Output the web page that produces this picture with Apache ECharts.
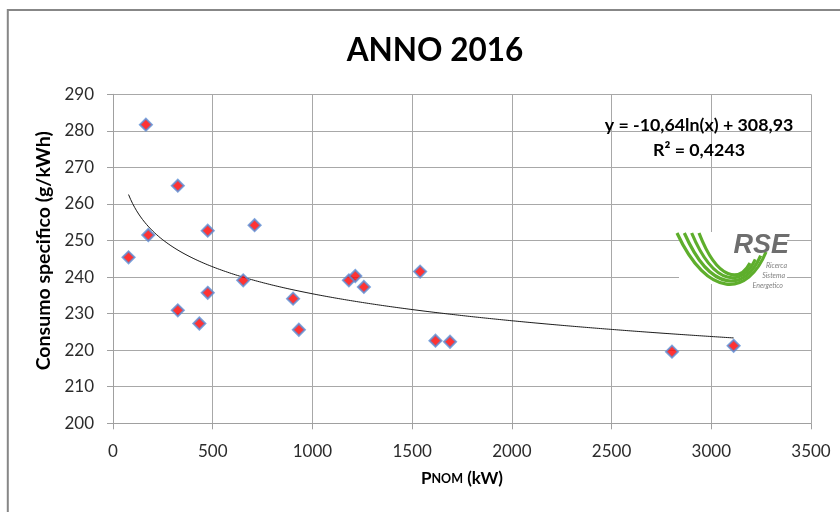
<!DOCTYPE html>
<html>
<head>
<meta charset="utf-8">
<script src="https://cdn.jsdelivr.net/npm/echarts@6/dist/echarts.min.js"></script>
<style>html,body{margin:0;padding:0;background:#fff}#c{width:840px;height:512px}</style>
</head>
<body>
<div id="c"></div>
<script>
// Data
const pNom = [78, 165, 177, 325, 325, 433, 475, 475, 653, 710, 903, 932, 1183, 1215, 1258, 1540, 1617, 1690, 2803, 3112];
const consumo = [245.4, 281.7, 251.5, 265.0, 230.9, 227.3, 252.7, 235.7, 239.1, 254.2, 234.1, 225.6, 239.1, 240.3, 237.3, 241.5, 222.6, 222.3, 219.6, 221.2];
// Logarithmic trend line coefficients shown on the chart
const TREND_A = -10.64;
const TREND_B = 308.93;
const xTicks = { min: 0, max: 3500, interval: 500 };
const yTicks = { min: 200, max: 290, interval: 10 };
const titleText = 'ANNO 2016';
const eqText = 'y = -10,64ln(x) + 308,93';
const r2Text = 'R² = 0,4243';

const scatterData = pNom.map((x, i) => [x, consumo[i]]);
const xMin = Math.min(...pNom), xMax = Math.max(...pNom);
const trendData = [];
for (let i = 0; i <= 300; i++) {
  const x = xMin + (xMax - xMin) * i / 300;
  trendData.push([x, TREND_A * Math.log(x) + TREND_B]);
}

const FONT = 'Lato, "Open Sans", sans-serif';
const chart = echarts.init(document.getElementById('c'), null, { renderer: 'canvas' });

// logo swoosh curves (outer -> inner)
const outer = { x1: 677, y1: 233, cpx1: 708, cpy1: 300, cpx2: 748, cpy2: 296, x2: 766, y2: 252 };
const inner = { x1: 699, y1: 233, cpx1: 718, cpy1: 282, cpx2: 740, cpy2: 282, x2: 750, y2: 263 };
const swoosh = [];
for (let i = 0; i < 4; i++) {
  const t = i / 3, shape = {};
  for (const k in outer) shape[k] = outer[k] + (inner[k] - outer[k]) * t;
  swoosh.push({ type: 'bezierCurve', shape, style: { stroke: '#5eae2c', lineWidth: 3.2, fill: null }, z: 101 });
}

chart.setOption({
  backgroundColor: '#ffffff',
  animation: false,
  title: {
    text: titleText,
    left: 430, top: 30, textAlign: 'center',
    textStyle: { fontFamily: FONT, fontSize: 31.5, fontWeight: 'bold', color: '#000' }
  },
  grid: { left: 113, right: 29, top: 94.3, bottom: 88.7 },
  xAxis: {
    type: 'value', min: xTicks.min, max: xTicks.max, interval: xTicks.interval,
    name: '{p|P}{s|NOM}{p| (kW)}',
    nameLocation: 'middle', nameGap: 47,
    nameTextStyle: {
      rich: {
        p: { fontFamily: FONT, fontSize: 17, fontWeight: 'bold', color: '#000' },
        s: { fontFamily: FONT, fontSize: 12.5, fontWeight: 'bold', color: '#000' }
      }
    },
    axisLine: { lineStyle: { color: '#a0a0a0', width: 1 } },
    axisTick: { show: true, length: 6, lineStyle: { color: '#a0a0a0' } },
    axisLabel: { fontFamily: FONT, fontSize: 17, color: '#2b2b2b', margin: 20, formatter: v => String(v) },
    splitLine: { show: true, lineStyle: { color: '#a8a8a8', width: 1 } }
  },
  yAxis: {
    type: 'value', min: yTicks.min, max: yTicks.max, interval: yTicks.interval,
    name: 'Consumo specifico (g/kWh)',
    nameLocation: 'middle', nameGap: 56,
    nameTextStyle: { fontFamily: FONT, fontSize: 19.5, fontWeight: 'bold', color: '#000', padding: [0, 0, 0, 16] },
    axisLine: { show: true, lineStyle: { color: '#a0a0a0', width: 1 } },
    axisTick: { show: true, length: 6, lineStyle: { color: '#a0a0a0' } },
    axisLabel: { fontFamily: FONT, fontSize: 17, color: '#2b2b2b', margin: 19, formatter: v => String(v) },
    splitLine: { show: true, lineStyle: { color: '#a8a8a8', width: 1 } }
  },
  series: [
    {
      type: 'line', data: trendData, showSymbol: false, symbol: 'none',
      lineStyle: { color: '#1a1a1a', width: 1 }, z: 3, silent: true
    },
    {
      type: 'scatter', data: scatterData, symbol: 'diamond', symbolSize: 12,
      itemStyle: { color: '#ff0000', borderColor: '#5b8fd6', borderWidth: 2 }, z: 4
    }
  ],
  graphic: [
    { type: 'polyline', shape: { points: [[7.8, 520], [7.8, 10], [850, 10]] },
      style: { stroke: '#878787', lineWidth: 2, fill: null }, z: 100 },
    { type: 'text', x: 699, y: 125, z: 100,
      style: { text: eqText, fontFamily: FONT, fontSize: 17.8, fontWeight: 'bold', fill: '#000',
        textAlign: 'center', textVerticalAlign: 'middle' } },
    { type: 'text', x: 699, y: 150, z: 100,
      style: { text: r2Text, fontFamily: FONT, fontSize: 17.8, fontWeight: 'bold', fill: '#000',
        textAlign: 'center', textVerticalAlign: 'middle' } },
    { type: 'rect', shape: { x: 679, y: 232, width: 108, height: 52 }, style: { fill: '#ffffff' }, z: 100 },
    ...swoosh,
    { type: 'text', x: 789, y: 246, z: 101,
      style: { text: 'RSE', fontFamily: '"Liberation Sans", Arial, sans-serif', fontSize: 27, fontWeight: 'bold', fontStyle: 'italic', fill: '#6e6e6e',
        textAlign: 'right', textVerticalAlign: 'middle' } },
    { type: 'text', x: 787, y: 266, z: 101,
      style: { text: 'Ricerca', fontFamily: FONT, fontSize: 7, fontStyle: 'italic', fill: '#808080', textAlign: 'right', textVerticalAlign: 'middle' } },
    { type: 'text', x: 785, y: 276, z: 101,
      style: { text: 'Sistema', fontFamily: FONT, fontSize: 7, fontStyle: 'italic', fill: '#808080', textAlign: 'right', textVerticalAlign: 'middle' } },
    { type: 'text', x: 783, y: 286, z: 101,
      style: { text: 'Energetico', fontFamily: FONT, fontSize: 7, fontStyle: 'italic', fill: '#808080', textAlign: 'right', textVerticalAlign: 'middle' } }
  ]
});
</script>
</body>
</html>
